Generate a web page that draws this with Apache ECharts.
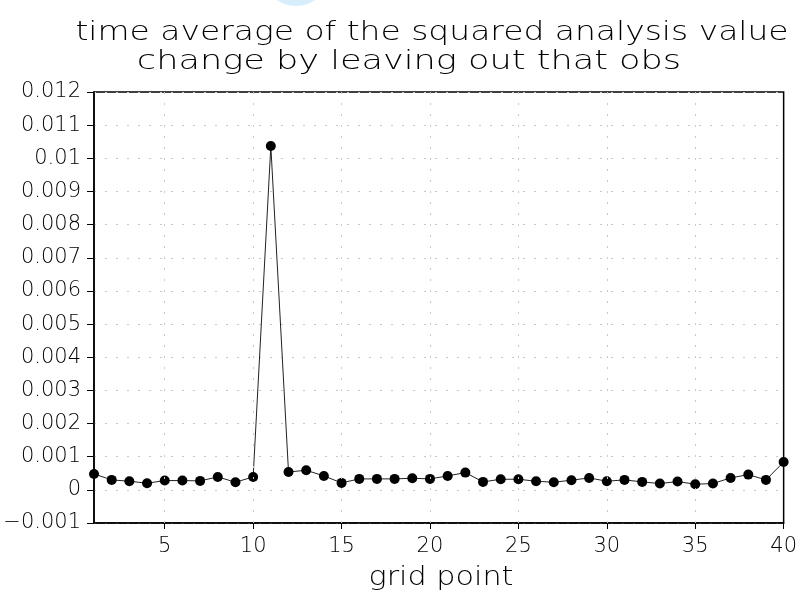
<!DOCTYPE html>
<html>
<head>
<meta charset="utf-8">
<script src="https://cdn.jsdelivr.net/npm/echarts@6/dist/echarts.min.js"></script>
<style>html,body{margin:0;padding:0;background:#fff}#c{width:800px;height:594px}</style>
</head>
<body>
<div id="c"></div>
<script>
const titleLines = ['time average of the squared analysis value', 'change by leaving out that obs'];
const xName = 'grid point';
const gridPoints = [1,2,3,4,5,6,7,8,9,10,11,12,13,14,15,16,17,18,19,20,21,22,23,24,25,26,27,28,29,30,31,32,33,34,35,36,37,38,39,40];
const values = [0.00048,0.00030,0.00026,0.00020,0.00028,0.00028,0.00027,0.00039,0.00023,0.00039,
                0.01037,0.00054,0.00059,0.00042,0.00021,0.00033,0.00033,0.00033,0.00035,0.00033,
                0.00042,0.00052,0.00024,0.00032,0.00032,0.00026,0.00023,0.00029,0.00036,0.00026,
                0.00030,0.00024,0.00019,0.00025,0.00017,0.00019,0.00036,0.00046,0.00030,0.00084];
const xTicks = [5,10,15,20,25,30,35,40];
const xGridLines = [5,10,15,20,25,30,35];
const yMin = -0.001, yMax = 0.012, yStep = 0.001;

const FONT = 'DejaVu Sans';
const chart = echarts.init(document.getElementById('c'), null, {renderer: 'canvas'});
const fmtY = v => {
  const s = parseFloat(v.toFixed(3)).toString();
  return s.replace('-', '\u2212');
};
const titleStyle = {fontFamily: FONT, fontWeight: 200, fontSize: 27, fill: '#000', align: 'center', verticalAlign: 'middle'};
chart.setOption({
  animation: false,
  backgroundColor: '#fff',
  graphic: [
    {type: 'circle', shape: {cx: 296, cy: -27, r: 33}, style: {fill: '#d8edfb'}, silent: true, z: -1},
    {type: 'text', x: 432, y: 33, scaleX: 1.22, silent: true,
     style: Object.assign({text: titleLines[0]}, titleStyle)},
    {type: 'text', x: 409, y: 62, scaleX: 1.3, silent: true,
     style: Object.assign({text: titleLines[1]}, titleStyle)},
    {type: 'text', x: 441, y: 578, scaleX: 1.12, silent: true,
     style: Object.assign({text: xName}, titleStyle)}
  ],
  grid: {left: 94, right: 13, top: 92, bottom: 71, show: true, borderColor: '#000', borderWidth: 1.5, backgroundColor: 'transparent'},
  xAxis: {
    type: 'value', min: 1, max: 40,
    axisLine: {show: true, onZero: false, lineStyle: {color: '#000', width: 1.5}},
    axisTick: {show: true, customValues: xTicks, length: 6, lineStyle: {color: '#000'}},
    axisLabel: {customValues: xTicks, margin: 13, fontFamily: FONT, fontWeight: 200, fontSize: 21, color: '#000'},
    splitLine: {show: false}
  },
  yAxis: {
    type: 'value', min: yMin, max: yMax, interval: yStep,
    axisLine: {show: true, onZero: false, lineStyle: {color: '#000', width: 1.5}},
    axisTick: {show: true, length: 7, lineStyle: {color: '#000'}},
    axisLabel: {formatter: fmtY, margin: 13, fontFamily: FONT, fontWeight: 200, fontSize: 21, color: '#000'},
    splitLine: {show: true, lineStyle: {color: '#c8c8c8', width: 1, type: [2, 9]}}
  },
  series: [{
    type: 'line',
    data: gridPoints.map((g, i) => [g, values[i]]),
    symbol: 'circle', symbolSize: 10,
    itemStyle: {color: '#000'},
    lineStyle: {color: '#222', width: 1},
    clip: false,
    markLine: {
      silent: true, symbol: 'none', label: {show: false},
      lineStyle: {color: '#c8c8c8', width: 1, type: [2, 9]},
      data: xGridLines.map(v => ({xAxis: v}))
    }
  }]
});
</script>
</body>
</html>
